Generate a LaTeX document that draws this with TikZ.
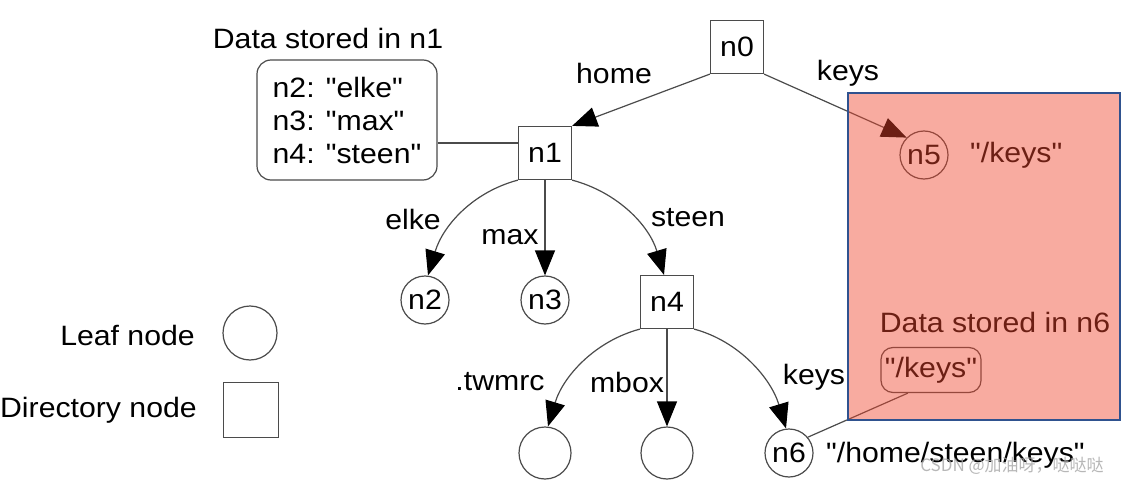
\documentclass[tikz,border=0pt]{standalone}
\usepackage{fontspec}
\newfontfamily\arialfont[FakeStretch=1.08]{Liberation Sans}
\newfontfamily\cjk{Noto Sans CJK SC}
\usetikzlibrary{arrows.meta}
\definecolor{ln}{RGB}{75,75,75}
\definecolor{ov}{RGB}{240,70,45}
\definecolor{bd}{RGB}{47,82,143}
\begin{document}
\begin{tikzpicture}[x=1pt,y=-1pt,
  font=\arialfont\fontsize{28}{33}\selectfont,
  dirnode/.style={draw=ln, line width=1.2pt, minimum size=53pt, inner sep=0pt},
  leafnode/.style={draw=ln, line width=1.2pt, circle, minimum size=48pt, inner sep=0pt},
  edgearrow/.style={draw=ln, line width=1.2pt, -{Triangle[length=25pt,width=20pt,color=black]}},
  plain/.style={draw=ln, line width=1.2pt},
  lbl/.style={inner sep=0pt}
]
\useasboundingbox (0,0) rectangle (1132,484);
\fill[white] (0,0) rectangle (1132,484);

% tree nodes
\node[dirnode] (n0) at (737,47) {n0};
\node[dirnode] (n1) at (545,153) {n1};
\node[leafnode] (n2) at (425,300) {n2};
\node[leafnode] (n3) at (545,300) {n3};
\node[dirnode] (n4) at (667,302) {n4};
\node[leafnode] (n5) at (924,155) {n5};
\node[leafnode, minimum size=52pt] (l1) at (545,453) {};
\node[leafnode, minimum size=52pt] (l2) at (667,453) {};
\node[leafnode] (n6) at (789,453) {n6};

% data box n1
\node[lbl] (t1) at (328,38) {Data stored in n1};
\node[plain, rounded corners=14pt, minimum width=180pt, minimum height=120pt, align=left, inner sep=0pt] (d1) at (347,120)
  {n2: "elke"\\n3: "max"\\n4: "steen"};
\draw[plain] ([yshift=10pt]n1.west) -- ([yshift=10pt]n1.west -| d1.east);

% legend
\node[leafnode, minimum size=54pt] (lg1) at (250,333) {};
\node[dirnode, minimum size=55pt] (lg2) at (251,410) {};
\node[lbl, anchor=east] (lt1) at (195,335) {Leaf node};
\node[lbl, anchor=east] (lt2) at (197,410) {Directory node};

% edges
\draw[edgearrow] (n0.south west) -- (n1.north east);
\draw[edgearrow] (n0.south east) -- (n5.135);
\draw[edgearrow] (n1.south west) .. controls +(-45,12) and +(15,-50) .. ([xshift=3pt]n2.north);
\draw[edgearrow] (n1.south) -- (n3.north);
\draw[edgearrow] (n1.south east) .. controls +(45,12) and +(-15,-50) .. ([xshift=-3pt]n4.north);
\draw[edgearrow] (n4.south west) .. controls +(-45,12) and +(15,-50) .. ([xshift=3pt]l1.north);
\draw[edgearrow] (n4.south) -- (l2.north);
\draw[edgearrow] (n4.south east) .. controls +(45,12) and +(-15,-50) .. ([xshift=-3pt]n6.north);

% edge labels
\node[lbl] (e1) at (614,73) {home};
\node[lbl] (e2) at (848,73) {keys};
\node[lbl] (e3) at (413,219) {elke};
\node[lbl] (e4) at (510,237) {max};
\node[lbl] (e5) at (688,218) {steen};
\node[lbl] (e6) at (500,382) {.twmrc};
\node[lbl] (e7) at (627,382) {mbox};
\node[lbl] (e8) at (814,377) {keys};

% path texts
\node[lbl, anchor=west] (p5) at (970,155) {"/keys"};
\node[lbl, anchor=west] (p6) at (826,455) {"/home/steen/keys"};

% data in n6
\node[lbl] (t6) at (995,322) {Data stored in n6};
\node[plain, rounded corners=12pt, inner sep=4pt, minimum height=45pt] (k6) at (931,370) {"/keys"};
\draw[plain] (n6.40) -- (k6.225);

% highlight overlay
\fill[ov, fill opacity=0.45] (848,93) rectangle (1120,420);
\draw[bd, line width=1.5pt] (848,93) rectangle (1120,420);

% watermark
\node[lbl, text=gray!70, opacity=0.8, font=\cjk\fontsize{17}{20}\selectfont] (wm) at (1012,466) {CSDN @加油呀，哒哒哒};
\end{tikzpicture}
\end{document}
